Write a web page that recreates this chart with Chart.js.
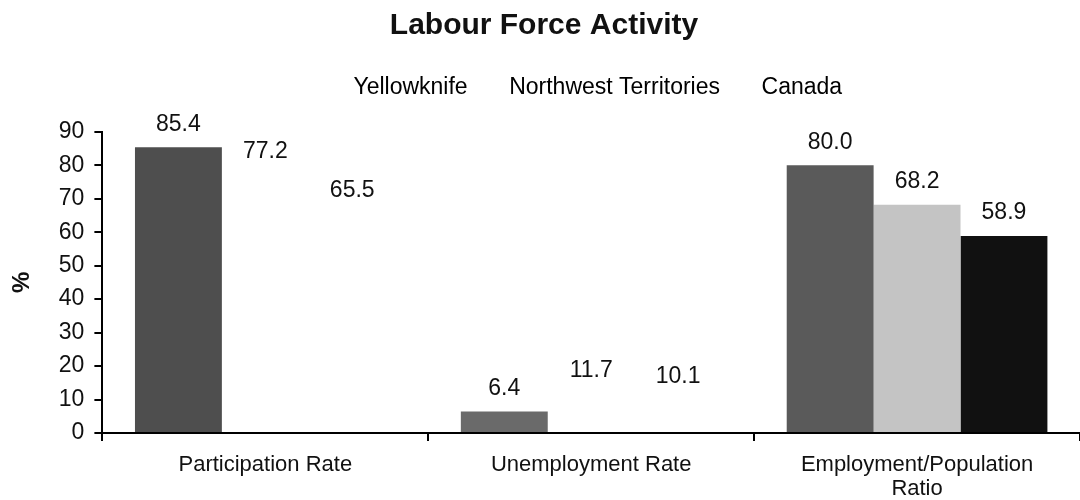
<!DOCTYPE html>
<html>
<head>
<meta charset="utf-8">
<script src="https://cdn.jsdelivr.net/npm/chart.js@4"></script>
<style>
  html, body { margin: 0; padding: 0; background: #fff; }
  #wrap { width: 1080px; height: 500px; }
</style>
</head>
<body>
<div id="wrap"><canvas id="myChart" width="1080" height="500"></canvas></div>
<script>
const categories = ["Participation Rate", "Unemployment Rate", ["Employment/Population", "Ratio"]]
const seriesNames = ["Yellowknife", "Northwest Territories", "Canada"]
const yellowknife = [85.4, 6.4, 80.0]
const nwt = [77.2, 11.7, 68.2]
const canada = [65.5, 10.1, 58.9]
const yTicks = [0, 10, 20, 30, 40, 50, 60, 70, 80, 90]

// scan washed out most of the lighter bars, so colours go per bar
const yellowknifeColors = ['#4e4e4e', '#6a6a6a', '#5a5a5a']
const nwtColors = ['#ffffff', '#ffffff', '#c4c4c4']
const canadaColors = ['#ffffff', '#ffffff', '#111111']

const font = "'Liberation Sans', Arial, sans-serif"

const valueLabels = {
    id: 'valueLabels',
    afterDatasetsDraw(chart) {
        const ctx = chart.ctx
        ctx.save()
        ctx.fillStyle = '#111'
        ctx.font = "23px " + font
        ctx.textAlign = 'center'
        ctx.textBaseline = 'middle'
        chart.data.datasets.forEach((ds, i) => {
            chart.getDatasetMeta(i).data.forEach((bar, j) => {
                ctx.fillText(ds.data[j].toFixed(1), bar.x, bar.y - 23)
            })
        })
        ctx.restore()
    }
}

// legend in the picture sits right of the page centre
const shiftLegend = {
    id: 'shiftLegend',
    afterLayout(chart) {
        chart.legend.left += 48
        chart.legend.right += 48
    }
}

function BuildBars() {
    var data = {
        labels: categories,
        datasets: [
            { label: seriesNames[0], data: yellowknife, backgroundColor: yellowknifeColors },
            { label: seriesNames[1], data: nwt, backgroundColor: nwtColors },
            { label: seriesNames[2], data: canada, backgroundColor: canadaColors }
        ]
    };
    var ctx = document.getElementById('myChart');
    return new Chart(ctx, {
        type: 'bar',
        data: data,
        plugins: [valueLabels, shiftLegend],
        options: {
            responsive: false,
            animation: false,
            layout: { padding: { left: 8, right: 0, top: 0, bottom: 0 } },
            datasets: {
                bar: { categoryPercentage: 0.8, barPercentage: 1.0 }
            },
            plugins: {
                title: {
                    display: true,
                    text: "Labour Force Activity",
                    color: '#111',
                    font: { family: font, size: 30, weight: 'bold' },
                    padding: { top: 8, bottom: 2 }
                },
                // empty subtitle below the legend, only used as a spacer
                subtitle: {
                    display: true,
                    text: '',
                    weight: 500,
                    font: { family: font, size: 19 },
                    padding: { top: 0, bottom: 0 }
                },
                legend: {
                    display: true,
                    labels: {
                        color: '#111',
                        font: { family: font, size: 23 },
                        boxWidth: 0,
                        boxHeight: 6,
                        padding: 30,
                        generateLabels(chart) {
                            return chart.data.datasets.map((ds, i) => ({
                                text: ds.label,
                                fillStyle: 'rgba(0,0,0,0)',
                                strokeStyle: 'rgba(0,0,0,0)',
                                lineWidth: 0,
                                datasetIndex: i
                            }))
                        }
                    }
                },
                tooltip: { enabled: false }
            },
            scales: {
                x: {
                    afterFit(scale) {
                        scale.height = 67
                    },
                    border: { display: true, color: '#000', width: 2 },
                    grid: { drawOnChartArea: false, drawTicks: true, tickLength: 8, color: '#000', lineWidth: 2 },
                    ticks: {
                        color: '#111',
                        font: { family: font, size: 22, lineHeight: 1.1 },
                        maxRotation: 0,
                        autoSkip: false,
                        padding: 12
                    }
                },
                y: {
                    min: 0,
                    max: 90,
                    afterBuildTicks(axis) {
                        axis.ticks = yTicks.map(v => ({ value: v }))
                    },
                    border: { display: true, color: '#000', width: 2 },
                    grid: { drawOnChartArea: false, drawTicks: true, tickLength: 8, color: '#000', lineWidth: 2 },
                    ticks: {
                        color: '#111',
                        font: { family: font, size: 23 },
                        padding: 10
                    },
                    title: {
                        display: true,
                        text: '%',
                        color: '#111',
                        font: { family: font, size: 24, weight: 'bold' },
                        padding: { top: 0, bottom: 12 }
                    }
                }
            }
        }
    });
}

BuildBars();
</script>
</body>
</html>
